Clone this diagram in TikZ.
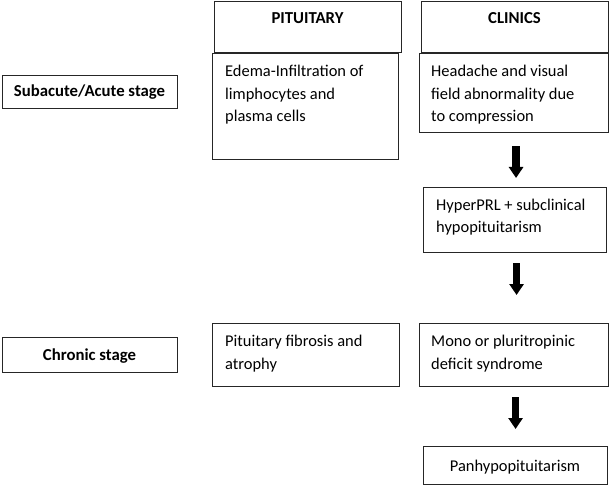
\documentclass[tikz,border=0pt]{standalone}
\usepackage{fontspec}
\setmainfont{Carlito}
\usetikzlibrary{arrows.meta}

\begin{document}
\begin{tikzpicture}[x=1bp,y=-1bp,
  box/.style={draw=black!85, line width=1.1bp, inner sep=0pt, anchor=north west},
  txt/.style={anchor=base west, align=left, inner sep=0pt, font=\fontsize{16.5}{23}\selectfont},
  title/.style={anchor=base, inner sep=0pt, font=\fontsize{16.8}{23}\selectfont\bfseries},
  plain/.style={anchor=base, inner sep=0pt, font=\fontsize{16.5}{23}\selectfont},
  down/.style={line width=7.5bp, -{Triangle[width=14bp,length=11bp]}}]
\useasboundingbox (0,0) rectangle (611,485);
% column heads
\node[box, minimum width=187bp, minimum height=51bp] (pit) at (214,1) {};
\node[box, minimum width=187bp, minimum height=51bp] (cli) at (421,1) {};
\node[title] (pittxt) at (307.5,23.3) {PITUITARY};
\node[title] (clitxt) at (514.5,23.3) {CLINICS};
% stages
\node[box, minimum width=175bp, minimum height=33bp] (subacute) at (2,75) {};
\node[title] (subacutetxt) at (89.5,97) {Subacute/Acute stage};
\node[box, minimum width=175bp, minimum height=35bp] (chronic) at (2,337) {};
\node[title] (chronictxt) at (89.5,360.5) {Chronic stage};
% pituitary column (base = last line)
\node[box, minimum width=186bp, minimum height=106bp] (edema) at (212,53) {};
\node[txt] (edematxt) at (225,122) {Edema-Infiltration of\\limphocytes and\\plasma cells};
\node[box, minimum width=187bp, minimum height=63bp] (fibrosis) at (212,323) {};
\node[txt] (fibrosistxt) at (225,369) {Pituitary fibrosis and\\atrophy};
% clinics column
\node[box, minimum width=189bp, minimum height=79bp] (headache) at (419,53) {};
\node[txt] (headachetxt) at (431,122) {Headache and visual\\field abnormality due\\to compression};
\node[box, minimum width=183bp, minimum height=65bp] (hyper) at (423,187) {};
\node[txt] (hypertxt) at (436,233) {HyperPRL + subclinical\\hypopituitarism};
\node[box, minimum width=189bp, minimum height=63bp] (mono) at (419,323) {};
\node[txt] (monotxt) at (431,369) {Mono or pluritropinic\\deficit syndrome};
\node[box, minimum width=184bp, minimum height=38bp] (panhypo) at (423,446) {};
\node[plain] (panhypotxt) at (515,471) {Panhypopituitarism};
% arrows
\draw[down, shorten <=13bp, shorten >=9bp] ([xshift=2bp]headache.south) -- ([xshift=2bp]headache.south |- hyper.north);
\draw[down, shorten <=10bp, shorten >=28bp] ([xshift=1.5bp]hyper.south) -- ([xshift=1.5bp]hyper.south |- mono.north);
\draw[down, shorten <=10bp, shorten >=17bp] ([xshift=1.5bp]mono.south) -- ([xshift=1.5bp]mono.south |- panhypo.north);
\end{tikzpicture}
\end{document}
